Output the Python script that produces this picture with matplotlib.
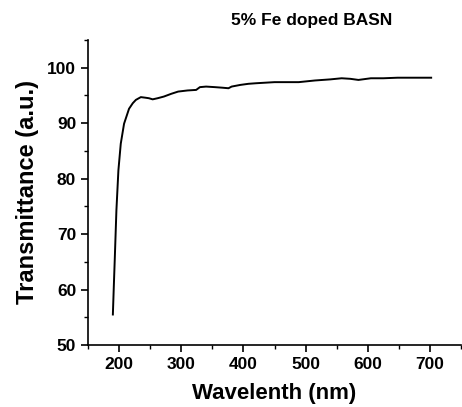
import matplotlib
matplotlib.use("Agg")
import matplotlib.pyplot as plt
from matplotlib.ticker import MultipleLocator

plt.rcParams['font.family'] = ['Liberation Sans', 'DejaVu Sans']
plt.rcParams['font.weight'] = 'bold'

wavelength = [190, 191.5, 193, 195.7, 198.9, 202.7, 208, 216, 222, 227, 235, 242, 248, 254, 262, 272,
              284, 295, 310, 324, 330, 340, 354, 366, 376, 381, 395, 408, 420, 435, 450, 462,
              489, 515, 540, 558, 572, 585, 605, 625, 648, 675, 702]
transmittance = [55.5, 60.5, 65.3, 74.3, 81.5, 86.3, 89.9, 92.6, 93.6, 94.2, 94.7, 94.6, 94.5, 94.3,
                 94.5, 94.8, 95.3, 95.7, 95.9, 96.0, 96.5, 96.6, 96.5, 96.4, 96.3, 96.6, 96.9,
                 97.1, 97.2, 97.3, 97.4, 97.4, 97.4, 97.7, 97.9, 98.1, 98.0, 97.8, 98.1, 98.1,
                 98.2, 98.2, 98.2]

fig = plt.figure(figsize=(4.62, 4.07), dpi=100)
ax = fig.add_axes([88/462, 1-345/407, (461-88)/462, (345-40)/407])
ax.plot(wavelength, transmittance, color='black', lw=1.4)
ax.set_xlim(150, 750)
ax.set_ylim(50, 105)
ax.xaxis.set_major_locator(MultipleLocator(100))
ax.xaxis.set_minor_locator(MultipleLocator(50))
ax.yaxis.set_major_locator(MultipleLocator(10))
ax.yaxis.set_minor_locator(MultipleLocator(5))
ax.set_xticks([200, 300, 400, 500, 600, 700])
ax.spines['top'].set_visible(False)
ax.spines['right'].set_visible(False)
for s in ['left', 'bottom']:
    ax.spines[s].set_linewidth(1.2)
ax.tick_params(which='major', direction='out', length=5, width=1.2, labelsize=12.5)
ax.tick_params(which='minor', direction='out', length=3, width=1.0)
for lab in ax.get_xticklabels() + ax.get_yticklabels():
    lab.set_fontweight('bold')
ax.set_xlabel('Wavelenth (nm)', fontsize=16, fontweight='bold', labelpad=8)
ax.set_ylabel('Transmittance (a.u.)', fontsize=17, fontweight='bold', labelpad=6)
fig.text(312/462, 1-20/407, '5% Fe doped BASN', ha='center', va='center', fontsize=12.5, fontweight='bold')
fig.savefig('out.png', dpi=100)
